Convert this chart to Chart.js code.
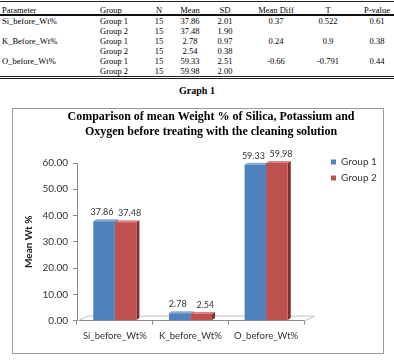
<!DOCTYPE html>
<html>
<head>
<meta charset="utf-8">
<script src="https://cdn.jsdelivr.net/npm/chart.js@4"></script>
<style>
  body { margin: 0; width: 394px; height: 362px; background: #fff; position: relative; overflow: hidden; }
  #tbl { position: absolute; left: 0; top: 1px; width: 394px; border-collapse: collapse; table-layout: fixed;
         font-family: "Liberation Serif", "Times New Roman", serif; font-size: 8.5px; color: #000;
         border-top: 1px solid #222; border-bottom: 3px double #222; }
  #tbl td, #tbl th { padding: 0; height: 10px; line-height: 10px; font-weight: normal; white-space: nowrap; }
  #tbl th { height: 8px; line-height: 8px; padding-top: 4px; border-bottom: 2px solid #111; }
  .c { text-align: center; }
  .l { text-align: left; }
  #cap { position: absolute; left: 0; width: 394px; top: 85px; text-align: center;
         font-family: "Liberation Serif", "Times New Roman", serif; font-weight: bold; font-size: 10px; }
  #box { position: absolute; left: 12px; top: 108px; width: 370px; height: 244px; border: 1px solid #9a9a9a; }
</style>
</head>
<body>
<table id="tbl"></table>
<div id="cap">Graph 1</div>
<div id="box"><canvas id="chart" width="370" height="244"></canvas></div>
<script>
document.addEventListener('DOMContentLoaded', function() {
  // table data
  const tableHead = ['Parameter', 'Group', 'N', 'Mean', 'SD', 'Mean Diff', 'T', 'P-value'];
  const tableRows = [
    ['Si_before_Wt%', 'Group 1', '15', '37.86', '2.01', '0.37', '0.522', '0.61'],
    ['', 'Group 2', '15', '37.48', '1.90', '', '', ''],
    ['K_Before_Wt%', 'Group 1', '15', '2.78', '0.97', '0.24', '0.9', '0.38'],
    ['', 'Group 2', '15', '2.54', '0.38', '', '', ''],
    ['O_before_Wt%', 'Group 1', '15', '59.33', '2.51', '-0.66', '-0.791', '0.44'],
    ['', 'Group 2', '15', '59.98', '2.00', '', '', '']
  ];
  const colWidths = [97, 49, 26, 36, 34, 68, 36, 48];
  const colPad = [2, 3, 0, 0, 0, 0, 0, 14];

  const tbl = document.getElementById('tbl');
  let html = '<colgroup>' + colWidths.map(w => '<col style="width:' + w + 'px">').join('') + '</colgroup>';
  html += '<tr>' + tableHead.map((h, i) =>
    '<th class="' + (i < 2 ? 'l' : 'c') + '" style="padding-left:' + colPad[i] + 'px">' + h + '</th>').join('') + '</tr>';
  tableRows.forEach(r => {
    html += '<tr>' + r.map((v, i) =>
      '<td class="' + (i < 2 ? 'l' : 'c') + '" style="padding-left:' + colPad[i] + 'px">' + v + '</td>').join('') + '</tr>';
  });
  tbl.innerHTML = html;

  // chart data
  const categories = ['Si_before_Wt%', 'K_before_Wt%', 'O_before_Wt%'];
  const group1 = [37.86, 2.78, 59.33];
  const group2 = [37.48, 2.54, 59.98];
  const seriesNames = ['Group 1', 'Group 2'];
  const titleLines = ['Comparison of mean Weight % of Silica, Potassium and',
                      'Oxygen before treating with the cleaning solution'];

  const labelFont = { family: 'Lato', size: 10 };
  const faceColors = [
    { top: '#86A8D6', side: '#3A6399' },
    { top: '#D88583', side: '#7E2F2D' }
  ];

  // 3D-ish faces + floor, drawn under the bars
  const depthPlugin = {
    id: 'depth',
    beforeDatasetsDraw(chart) {
      const c = chart.ctx;
      const a = chart.chartArea;
      const dx = 3, dy = 2;
      c.save();
      // floor
      c.strokeStyle = '#c4c4c4';
      c.lineWidth = 1;
      c.beginPath();
      c.moveTo(a.left, a.bottom + 0.5);
      c.lineTo(a.left + 11, a.bottom - 4.5);
      c.lineTo(a.right + 11, a.bottom - 4.5);
      c.lineTo(a.right, a.bottom + 0.5);
      c.stroke();
      chart.data.datasets.forEach((ds, di) => {
        const meta = chart.getDatasetMeta(di);
        meta.data.forEach(bar => {
          const p = bar.getProps(['x', 'y', 'base', 'width'], true);
          const l = p.x - p.width / 2, r = p.x + p.width / 2;
          c.fillStyle = faceColors[di].side;
          c.beginPath();
          c.moveTo(r, p.y);
          c.lineTo(r + dx, p.y - dy);
          c.lineTo(r + dx, p.base - dy);
          c.lineTo(r, p.base);
          c.closePath();
          c.fill();
          c.fillStyle = faceColors[di].top;
          c.beginPath();
          c.moveTo(l, p.y);
          c.lineTo(l + dx, p.y - dy);
          c.lineTo(r + dx, p.y - dy);
          c.lineTo(r, p.y);
          c.closePath();
          c.fill();
        });
      });
      c.restore();
    },
    afterDatasetsDraw(chart) {
      const c = chart.ctx;
      c.save();
      c.font = '9px Lato';
      c.fillStyle = '#333';
      c.textAlign = 'center';
      c.textBaseline = 'middle';
      chart.data.datasets.forEach((ds, di) => {
        chart.getDatasetMeta(di).data.forEach((bar, i) => {
          c.fillText(ds.data[i].toFixed(2), bar.x + (di === 1 ? 4 : -2), bar.y - 9);
        });
      });
      c.restore();
    },
    afterLayout(chart) {
      // title sits a little right of centre in the original
      chart.titleBlock.left = 26;
      chart.titleBlock.right = chart.width;
      // legend a bit further right and level with the top of the axis
      const lg = chart.legend;
      lg.left += 7; lg.right += 7;
      lg.top -= 12; lg.bottom -= 12;
    }
  };

  const ctx = document.getElementById('chart').getContext('2d');
  new Chart(ctx, {
    type: 'bar',
    data: {
      labels: categories,
      datasets: [
        { label: seriesNames[0], data: group1, backgroundColor: '#4F81BD' },
        { label: seriesNames[1], data: group2, backgroundColor: '#C0504D' }
      ]
    },
    options: {
      responsive: false,
      animation: false,
      categoryPercentage: 0.57,
      barPercentage: 1,
      layout: { padding: { left: 0, right: 4, top: 0, bottom: 5 } },
      plugins: {
        title: {
          display: true,
          text: titleLines,
          color: '#000',
          font: { family: 'Liberation Serif', size: 12, weight: 'bold', lineHeight: 1.25 },
          padding: { top: 0, bottom: 24 }
        },
        legend: {
          position: 'right',
          align: 'start',
          fullSize: false,
          labels: { boxWidth: 5, boxHeight: 5, padding: 6, color: '#333', font: labelFont }
        },
        tooltip: { enabled: false }
      },
      scales: {
        x: {
          grid: { drawOnChartArea: false, tickLength: 4, color: '#8a8a8a' },
          border: { color: '#8a8a8a' },
          ticks: { padding: 6, color: '#333', font: { family: 'Lato', size: 9.5 }, maxRotation: 0, autoSkip: false }
        },
        y: {
          min: 0,
          max: 60,
          ticks: {
            stepSize: 10,
            padding: 5,
            color: '#333',
            font: labelFont,
            callback: function(value) { return value.toFixed(2); }
          },
          grid: { drawOnChartArea: false, tickLength: 4, color: '#8a8a8a' },
          border: { color: '#8a8a8a' },
          title: {
            display: true,
            text: 'Mean Wt %',
            color: '#222',
            font: { family: 'Lato', size: 10, weight: 'bold' },
            padding: { top: 10, bottom: 0 }
          },
          afterFit: function(scale) { scale.width = 64; }
        },
        gap: {
          type: 'linear',
          position: 'right',
          grid: { display: false },
          border: { display: false },
          ticks: { display: false },
          afterFit: function(scale) { scale.width = 14; }
        }
      }
    },
    plugins: [depthPlugin]
  });
});
</script>
</body>
</html>
